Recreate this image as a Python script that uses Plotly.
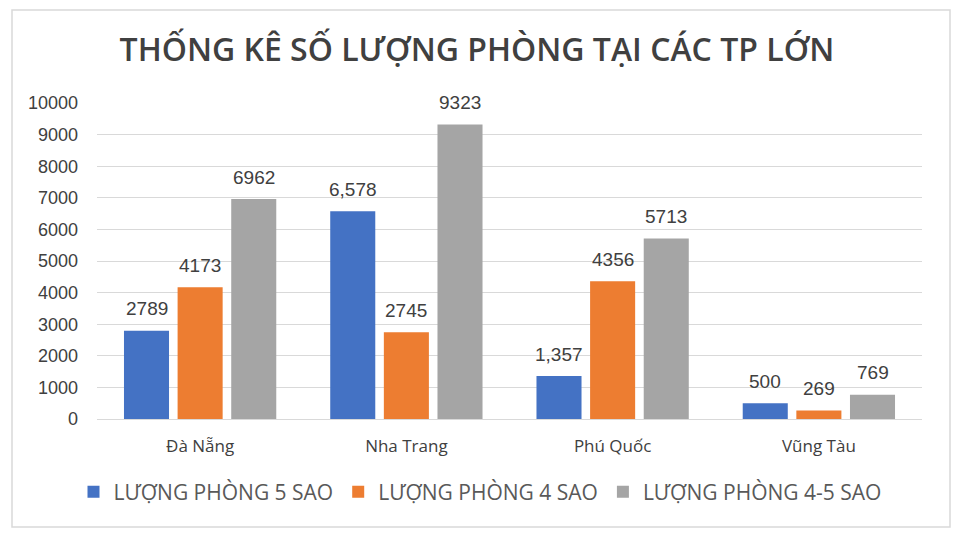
import plotly.graph_objects as go

cities = ["Đà Nẵng", "Nha Trang", "Phú Quốc", "Vũng Tàu"]
series_names = ["LƯỢNG PHÒNG 5 SAO", "LƯỢNG PHÒNG 4 SAO", "LƯỢNG PHÒNG 4-5 SAO"]
rooms_5 = [2789, 6578, 1357, 500]
rooms_4 = [4173, 2745, 4356, 269]
rooms_45 = [6962, 9323, 5713, 769]
labels_5 = ["2789", "6,578", "1,357", "500"]
labels_4 = ["4173", "2745", "4356", "269"]
labels_45 = ["6962", "9323", "5713", "769"]

colors = ["#4472C4", "#ED7D31", "#A5A5A5"]
SANS = "Open Sans, sans-serif"
WIDE = "Liberation Sans, Arial, sans-serif"

W, H = 960, 543
# page body adds an 8px margin, so everything is pulled back by that much
L, R, T, B = 89, 46, 95, 132
BARGAP = 0.22

fig = go.Figure()
all_vals = [rooms_5, rooms_4, rooms_45]
all_labels = [labels_5, labels_4, labels_45]
for name, vals, col in zip(series_names, all_vals, colors):
    fig.add_trace(go.Bar(
        x=cities, y=vals, name=name,
        marker=dict(color=col, line=dict(width=0)),
    ))

# data labels floated a bit above each bar
cat_px = (W - L - R) / len(cities)
slot_px = cat_px * (1 - BARGAP) / 3
for i, (vals, labs) in enumerate(zip(all_vals, all_labels)):
    for c, v, lab in zip(cities, vals, labs):
        fig.add_annotation(
            x=c, y=v, xref="x", yref="y", text=lab, showarrow=False,
            xshift=(i - 1) * slot_px, yshift=22, yanchor="middle",
            font=dict(family=WIDE, size=19, color="#404040"),
        )

ph = H - T - B
pw = W - L - R
fig.add_shape(
    type="rect", xref="paper", yref="paper",
    x0=(4 - L) / pw, x1=(942 - L) / pw,
    y0=-(519 - (H - B)) / ph, y1=((H - B) - 2) / ph,
    line=dict(color="#D9D9D9", width=1.5), fillcolor="rgba(0,0,0,0)", layer="below",
)

fig.update_layout(
    width=W, height=H,
    margin=dict(l=L, r=R, t=T, b=B, autoexpand=False),
    paper_bgcolor="white", plot_bgcolor="white",
    barmode="group", bargap=BARGAP, bargroupgap=0.16,
    title=dict(
        text="THỐNG KÊ SỐ LƯỢNG PHÒNG TẠI CÁC TP LỚN",
        x=(477 - 8) / W, xref="container", xanchor="center",
        y=1 - 42 / H, yref="container", yanchor="middle",
        font=dict(family=SANS, size=32, color="#404040", weight=600),
    ),
    xaxis=dict(
        showgrid=False, showline=True, linecolor="#D9D9D9", linewidth=1,
        ticks="", ticklabelstandoff=12,
        tickfont=dict(family=SANS, size=17, color="#404040"),
    ),
    yaxis=dict(
        range=[0, 10000], dtick=1000, tickformat="d",
        showgrid=True, gridcolor="#D9D9D9", gridwidth=1,
        zeroline=False, showline=False, ticks="", ticklabelstandoff=18,
        tickfont=dict(family=WIDE, size=18, color="#404040"),
    ),
    legend=dict(
        orientation="h", x=(480 - 8) / W, xref="container", xanchor="center",
        y=-(484 - (H - B)) / ph, yanchor="middle",
        font=dict(family=SANS, size=21, color="#595959"),
        itemwidth=30, traceorder="normal",
    ),
    showlegend=True,
)

fig.write_html("out.html")
